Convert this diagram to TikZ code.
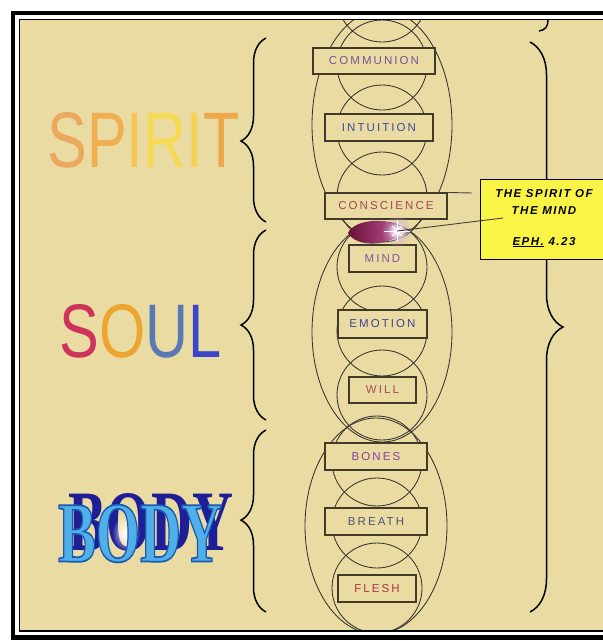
\documentclass[tikz,border=0pt]{standalone}
\usepackage{fontspec}
\setmainfont{Liberation Sans}
\newfontfamily\boxfont[LetterSpace=18]{Liberation Sans}
\newfontfamily\callfont[LetterSpace=13]{Liberation Sans}
\newfontfamily\bodyfont{Liberation Serif}
\usetikzlibrary{decorations.pathreplacing,fadings}
\tikzfading[name=glow, inner color=transparent!0, outer color=transparent!100]
\definecolor{bg}{RGB}{234,219,163}
\definecolor{ring}{RGB}{55,50,45}
\definecolor{boxline}{RGB}{65,58,40}
\definecolor{cComm}{RGB}{115,85,150}
\definecolor{cInt}{RGB}{60,75,160}
\definecolor{cCons}{RGB}{160,70,85}
\definecolor{cMind}{RGB}{130,85,160}
\definecolor{cEmo}{RGB}{65,65,150}
\definecolor{cWill}{RGB}{160,80,80}
\definecolor{cBones}{RGB}{140,60,160}
\definecolor{cBreath}{RGB}{75,85,120}
\definecolor{cFlesh}{RGB}{170,55,70}
\definecolor{callyellow}{RGB}{250,244,70}
\definecolor{sp1}{RGB}{236,168,92}
\definecolor{sp2}{RGB}{240,175,80}
\definecolor{sp3}{RGB}{244,198,86}
\definecolor{sp4}{RGB}{246,218,86}
\definecolor{sp5}{RGB}{244,210,84}
\definecolor{sp6}{RGB}{238,168,76}
\definecolor{so1}{RGB}{205,50,90}
\definecolor{so2}{RGB}{238,165,48}
\definecolor{so3}{RGB}{90,120,180}
\definecolor{so4}{RGB}{60,70,200}
\definecolor{bdback}{RGB}{30,30,150}
\definecolor{bdfront}{RGB}{80,175,232}
\definecolor{gemdark}{RGB}{105,15,55}
\definecolor{gempink}{RGB}{190,90,150}
\newcommand\bodyword[1]{\resizebox{164pt}{57pt}{\color{#1}\bodyfont\bfseries BODY}}
\newcommand\bodyoutlined{\resizebox{164pt}{57pt}{\color{bdfront}\bodyfont\bfseries
  \special{pdf:literal direct 2 Tr 0.2 w 0.1 0.35 0.7 RG}BODY\special{pdf:literal direct 0 Tr}}}
\tikzset{
  ring/.style={draw=ring, line width=0.85pt},
  lbox/.style={draw=boxline, fill=bg, line width=1.1pt, inner sep=0pt,
    font=\boxfont\fontsize{11.5}{12}\selectfont},
  bracestyle/.style={draw=black, line width=1.5pt, decorate},
  pointer/.style={draw=black!75, line width=0.9pt},
  calltext/.style={font=\callfont\bfseries\itshape\fontsize{11.5}{12}\selectfont, inner sep=0pt},
  bigword/.style={inner sep=0pt}
}
\begin{document}
\begin{tikzpicture}[x=1pt,y=-1pt]
\useasboundingbox (0,0) rectangle (603,641);
\fill[white] (0,0) rectangle (603,641);
\fill[bg] (19.5,19.5) rectangle (660,631);
% column of circles and ellipses
\begin{scope}
\clip (20,20) rectangle (660,630);
\foreach \cy in {-3,65,130,197,267,331,395}
  \draw[ring] (382,\cy) circle[radius=45pt];
\foreach \cy in {461,523,588}
  \draw[ring] (377,\cy) circle[radius=45pt];
\draw[ring] (382,125) ellipse[x radius=70pt, y radius=115pt];
\draw[ring] (382,332) ellipse[x radius=70pt, y radius=110pt];
\draw[ring] (376,526) ellipse[x radius=71pt, y radius=108pt];
\end{scope}
% gem
\shade[left color=gemdark, right color=gempink]
  (348,233) .. controls (354,219) and (390,216) .. (403,230)
  .. controls (392,247) and (356,248) .. (348,233);
% boxes
\node[lbox, minimum width=122pt, minimum height=26pt, text=cComm] (comm) at (374,61) {COMMUNION};
\node[lbox, minimum width=108pt, minimum height=27pt, text=cInt] (intu) at (379,127.5) {INTUITION};
\node[lbox, minimum width=122pt, minimum height=26pt, text=cCons] (cons) at (386,206) {CONSCIENCE};
\node[lbox, minimum width=67pt, minimum height=27pt, text=cMind] (mind) at (382.5,258.5) {MIND};
\node[lbox, minimum width=89pt, minimum height=28pt, text=cEmo] (emot) at (382.5,324) {EMOTION};
\node[lbox, minimum width=67pt, minimum height=26pt, text=cWill] (will) at (382.5,390) {WILL};
\node[lbox, minimum width=102pt, minimum height=27pt, text=cBones] (bones) at (376,456.5) {BONES};
\node[lbox, minimum width=102pt, minimum height=27pt, text=cBreath] (breath) at (376,521.5) {BREATH};
\node[lbox, minimum width=78pt, minimum height=27pt, text=cFlesh] (flesh) at (377,588.5) {FLESH};
% sparkle
\coordinate (spk) at (397,231);
\fill[violet!35, path fading=glow] (spk) circle[radius=16pt];
\fill[white, path fading=glow] (spk) circle[radius=10pt];
\foreach \a/\l in {0/13,90/11,180/13,270/11,45/7,135/7,225/7,315/7}
  \draw[white, line width=0.8pt] (spk) -- ++(\a:\l pt);
\fill[white] (spk) circle[radius=2.5pt];
% braces
\draw[bracestyle, decoration={brace, amplitude=25pt, aspect=0.44}] (266,222) -- (266,38);
\draw[bracestyle, decoration={brace, amplitude=25pt, aspect=0.5}] (266,420) -- (266,230);
\draw[bracestyle, decoration={brace, amplitude=25pt, aspect=0.505}] (266,612) -- (266,430);
\draw[bracestyle, decoration={brace, amplitude=33pt, aspect=0.5}] (530,42) -- (530,612);
\draw[draw=black, line width=1.5pt] (548,20) .. controls (548,27) and (545,30) .. (539,31);
% callout
\node[draw=black, line width=1.1pt, fill=callyellow, anchor=north west,
  minimum width=160pt, minimum height=80pt, inner sep=0pt] (call) at (480,179) {};
\node[calltext] (ct1) at (544,194) {THE SPIRIT OF};
\node[calltext] (ct2) at (544,211) {THE MIND};
\node[calltext] (ct3) at (544,242) {\underline{EPH.} 4.23};
\coordinate (hl) at (472,193);
\coordinate (ptr) at (503,218);
\draw[pointer] (cons.north east) -- (hl);
\draw[pointer] (spk) -- (ptr);
% big words
\node[bigword] (spirit) at (143.5,140) {\resizebox{192pt}{55pt}{%
  {\color{sp1}S}{\color{sp2}P}{\color{sp3}I}{\color{sp4}R}{\color{sp5}I}{\color{sp6}T}}};
\node[bigword] (soul) at (141,331) {\resizebox{162pt}{53pt}{%
  {\color{so1}S}{\color{so2}O}{\color{so3}U}{\color{so4}L}}};
\node[bigword] (bodyback) at (151,522) {\bodyword{bdback}};
\fill[white, path fading=glow] (126,533) ellipse[x radius=14pt, y radius=18pt];
\node[bigword] (bodyfront) at (140,533.5) {\bodyoutlined};
% frame
\draw[line width=4.5pt] (13,13) rectangle (680,637.5);
\draw[line width=1.5pt] (19.5,19.5) rectangle (670,631);
\end{tikzpicture}
\end{document}
